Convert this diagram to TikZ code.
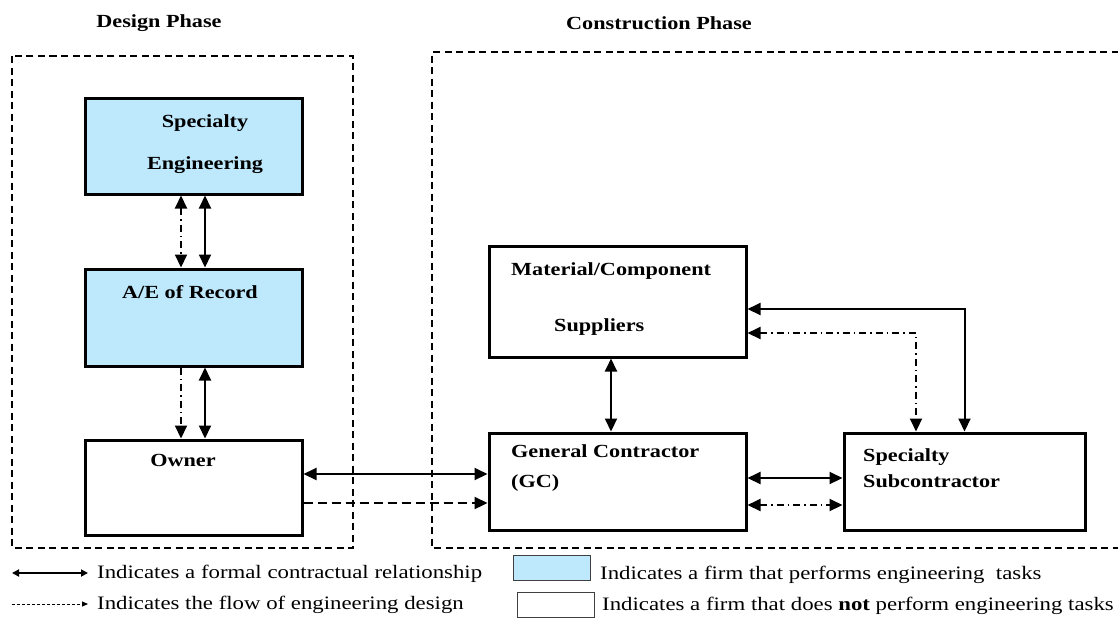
\documentclass[tikz,border=0pt]{standalone}
\usepackage{fontspec}
\setmainfont{Liberation Serif}[FakeStretch=1.2]
\usetikzlibrary{positioning,arrows.meta}

\definecolor{engblue}{RGB}{190,232,251}

\tikzset{
  firm/.style={draw, line width=3pt, inner sep=0pt},
  engfirm/.style={firm, fill=engblue},
  phasebox/.style={draw, line width=1.6pt, dash pattern=on 7pt off 4.5pt},
  phasetext/.style={font=\fontsize{18.5}{22}\selectfont\bfseries, inner sep=0pt},
  firmtext/.style={font=\fontsize{18.5}{22}\selectfont\bfseries, inner sep=0pt},
  keytext/.style={font=\fontsize{19}{23}\selectfont, anchor=west, inner sep=0pt},
  keyswatch/.style={draw=black!75, line width=1.8pt, minimum width=77pt, minimum height=25pt, inner sep=0pt},
  contract/.style={<->, line width=2pt},
  flowlink/.style={line width=2pt, dash pattern=on 7pt off 4pt on 1.5pt off 4pt},
  designflow/.style={->, line width=2.2pt, dash pattern=on 9pt off 5pt},
  keycontract/.style={line width=1.8pt, {Triangle[length=7pt,width=7pt]}-{Triangle[length=7pt,width=7pt]}},
  keyflow/.style={line width=0.9pt, dash pattern=on 3pt off 2pt, -{Triangle[length=6pt,width=5pt]}}
}

\begin{document}
\begin{tikzpicture}[x=1pt, y=-1pt, >={Triangle[length=13pt,width=12pt]}]
  \useasboundingbox (0,0) rectangle (1118,622);

  % the two phases
  \draw[phasebox] (12,56) rectangle (353,548);
  \draw[phasebox] (1130,52) -- (432,52) -- (432,548) -- (1130,548);
  \node[phasetext] (dp) at (159,23) {Design Phase};
  \node[phasetext] (cp) at (659,23) {Construction Phase};

  % design phase firms
  \node[engfirm, minimum width=217pt, minimum height=96pt] (se) at (193.5,146) {};
  \node[engfirm, minimum width=217pt, minimum height=97pt, below=72pt of se] (ae) {};
  \node[firm, minimum width=217pt, minimum height=95pt, below=71pt of ae] (owner) {};

  \node[firmtext, align=center] (set) at (205,144) {Specialty\\[20pt]Engineering};
  \node[firmtext] (aet) at (190,292) {A/E of Record};
  \node[firmtext] (ownert) at (183,460) {Owner};

  % construction phase firms
  \node[firm, minimum width=257pt, minimum height=111pt] (mcs) at (617.5,301.5) {};
  \node[firm, minimum width=257pt, minimum height=97pt, below=73pt of mcs] (gc) {};
  \node[firm, minimum width=241pt, minimum height=97pt, right=95pt of gc] (ss) {};

  \node[firmtext, align=left, anchor=west] (mcst) at (511,299) {Material/Component\\[34pt]\hspace*{43pt}Suppliers};
  \node[firmtext, align=left, anchor=west] (gct) at (511,468) {General Contractor\\[8pt](GC)};
  \node[firmtext, align=left, anchor=west] (sst) at (863,468) {Specialty\\[4pt]Subcontractor};

  % relationships
  \draw[flowlink, <->] ([xshift=-12.5pt]se.south) -- ([xshift=-12.5pt]ae.north);
  \draw[contract] ([xshift=11.5pt]se.south) -- ([xshift=11.5pt]ae.north);
  \draw[flowlink, ->] ([xshift=-12.5pt]ae.south) -- ([xshift=-12.5pt]owner.north);
  \draw[contract] ([xshift=11.5pt]ae.south) -- ([xshift=11.5pt]owner.north);

  \draw[contract] ([yshift=13.5pt]owner.east) -- ([yshift=13.5pt]owner.east -| gc.west);
  \draw[designflow] ([yshift=-15.5pt]owner.east) -- ([yshift=-15.5pt]owner.east -| gc.west);

  \draw[contract] ([xshift=-6.5pt]mcs.south) -- ([xshift=-6.5pt]gc.north);
  \draw[contract] ([yshift=-7.5pt]mcs.east) -| (ss.north);
  \draw[flowlink, <->] ([yshift=-31.5pt]mcs.east) -| ([xshift=-48.5pt]ss.north);
  \draw[contract] ([yshift=3.5pt]gc.east) -- ([yshift=3.5pt]gc.east -| ss.west);
  \draw[flowlink, <->] ([yshift=-23.5pt]gc.east) -- ([yshift=-23.5pt]gc.east -| ss.west);

  % key
  \coordinate (k1a) at (12,573);
  \coordinate (k1b) at (88,573);
  \draw[keycontract] (k1a) -- (k1b);
  \node[keytext] (k1t) at (97,574) {Indicates a formal contractual relationship};
  \coordinate (k2a) at (12,604);
  \coordinate (k2b) at (88,604);
  \draw[keyflow] (k2a) -- (k2b);
  \node[keytext] (k2t) at (97,605) {Indicates the flow of engineering design};

  \node[keyswatch, fill=engblue] (k3) at (552,568) {};
  \node[keytext] (k3t) at (600,575) {Indicates a firm that performs engineering\ \ tasks};
  \node[keyswatch, fill=white] (k4) at (556,605) {};
  \node[keytext] (k4t) at (602,606) {Indicates a firm that does \textbf{not} perform engineering tasks};
\end{tikzpicture}
\end{document}
